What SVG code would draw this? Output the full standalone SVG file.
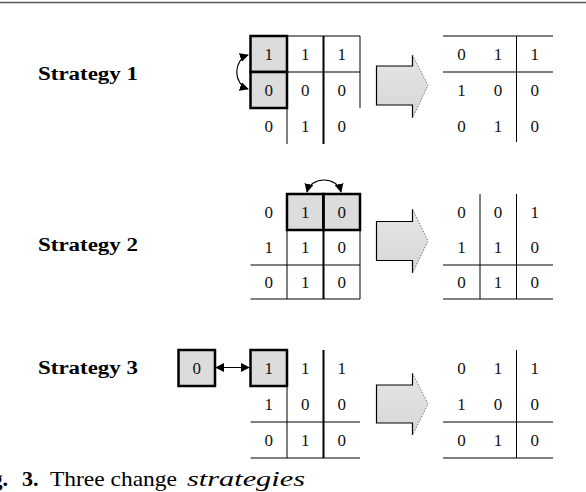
<svg xmlns="http://www.w3.org/2000/svg" width="586" height="492" viewBox="0 0 586 492">
<defs>
<marker id="ah" viewBox="0 0 10 10" refX="9" refY="5" markerWidth="9" markerHeight="9" markerUnits="userSpaceOnUse" orient="auto-start-reverse">
<path d="M0,0 L10,5 L0,10 Z" fill="#000"/>
</marker>
<linearGradient id="bg" x1="0" y1="0" x2="0" y2="1">
<stop offset="0" stop-color="#e6e6e6"/>
<stop offset="1" stop-color="#d6d6d6"/>
</linearGradient>
</defs>
<style>
.n{font-family:"Liberation Serif","Times New Roman",serif;font-size:17px;text-anchor:middle;fill:#111}
.lbl{font-family:"Liberation Serif","Times New Roman",serif;font-size:18px;font-weight:bold;fill:#000}
.g{fill:none;stroke:#000;stroke-width:1}
.hot{fill:#dcdcdc;stroke:#000;stroke-width:2.5}
.ar{fill:none;stroke:#000;stroke-width:1.2}
.bf{fill:url(#bg);stroke:none}
.bs{fill:none;stroke:#000;stroke-width:1.2}
.bd{fill:none;stroke:#777;stroke-width:1;stroke-dasharray:1.5 1.5}
.cap{font-family:"Liberation Serif","Times New Roman",serif;font-size:22px;fill:#000}
</style>
<rect width="586" height="492" fill="#fff"/>
<line x1="0" y1="2.5" x2="586" y2="2.5" stroke="#555" stroke-width="1.5"/>

<!-- Strategy 1 -->
<g id="label1"><text class="lbl" x="38" y="80" textLength="100" lengthAdjust="spacingAndGlyphs">Strategy 1</text></g>
<g id="matrix1a">
<path class="g" d="M250.5,36 H360 M250.5,72 H360 M287,36 V144 M323.5,36 V144 M360,36 V108"/>
<rect class="hot" x="250.5" y="36" width="36.5" height="36"/>
<rect class="hot" x="250.5" y="72" width="36.5" height="36"/>
<line x1="323.5" y1="36" x2="323.5" y2="144" stroke="#000" stroke-width="2"/>
<text class="n" x="268.7" y="60">1</text><text class="n" x="305.2" y="60">1</text><text class="n" x="341.7" y="60">1</text>
<text class="n" x="268.7" y="96">0</text><text class="n" x="305.2" y="96">0</text><text class="n" x="341.7" y="96">0</text>
<text class="n" x="268.7" y="132">0</text><text class="n" x="305.2" y="132">1</text><text class="n" x="341.7" y="132">0</text>
</g>
<g id="arrow1">
<path class="bf" d="M376.5,66 H412.5 V55 L428,85.5 L412.5,118 V105 H376.5 Z"/>
<path class="bs" d="M412.5,55 V66 H376.5 V105 H412.5 V118"/>
<path class="bd" d="M412.5,55 L428,85.5 L412.5,118"/>
</g>
<g id="matrix1b">
<path class="g" d="M443,36 H553 M443,72 H553 M516.5,36 V142"/>
<text class="n" x="461.5" y="60">0</text><text class="n" x="498" y="60">1</text><text class="n" x="534.7" y="60">1</text>
<text class="n" x="461.5" y="96">1</text><text class="n" x="498" y="96">0</text><text class="n" x="534.7" y="96">0</text>
<text class="n" x="461.5" y="132">0</text><text class="n" x="498" y="132">1</text><text class="n" x="534.7" y="132">0</text>
</g>

<!-- Strategy 2 -->
<g id="label2"><text class="lbl" x="38" y="251" textLength="100" lengthAdjust="spacingAndGlyphs">Strategy 2</text></g>
<g id="matrix2a">
<path class="g" d="M250.5,265 H360 M250.5,299 H360 M287,194 V299 M360,230 V299"/>
<rect class="hot" x="287" y="194" width="36.5" height="36"/>
<rect class="hot" x="323.5" y="194" width="36.5" height="36"/>
<line x1="323.5" y1="194" x2="323.5" y2="299" stroke="#000" stroke-width="2"/>
<text class="n" x="268.7" y="218">0</text><text class="n" x="305.2" y="218">1</text><text class="n" x="341.7" y="218">0</text>
<text class="n" x="268.7" y="253">1</text><text class="n" x="305.2" y="253">1</text><text class="n" x="341.7" y="253">0</text>
<text class="n" x="268.7" y="288">0</text><text class="n" x="305.2" y="288">1</text><text class="n" x="341.7" y="288">0</text>
</g>
<g id="arrow2">
<path class="bf" d="M376.5,221.5 H412.5 V209 L428,241 L412.5,273 V260.5 H376.5 Z"/>
<path class="bs" d="M412.5,209 V221.5 H376.5 V260.5 H412.5 V273"/>
<path class="bd" d="M412.5,209 L428,241 L412.5,273"/>
</g>
<g id="matrix2b">
<path class="g" d="M443,265 H553 M443,299 H553 M480,194 V299 M516.5,194 V299"/>
<text class="n" x="461.5" y="218">0</text><text class="n" x="498" y="218">0</text><text class="n" x="534.7" y="218">1</text>
<text class="n" x="461.5" y="253">1</text><text class="n" x="498" y="253">1</text><text class="n" x="534.7" y="253">0</text>
<text class="n" x="461.5" y="288">0</text><text class="n" x="498" y="288">1</text><text class="n" x="534.7" y="288">0</text>
</g>

<!-- Strategy 3 -->
<g id="label3"><text class="lbl" x="38" y="374" textLength="100" lengthAdjust="spacingAndGlyphs">Strategy 3</text></g>
<g id="box3">
<rect class="hot" x="178.5" y="350" width="36.5" height="36"/>
<text class="n" x="196.7" y="374">0</text>
</g>
<g id="matrix3a">
<path class="g" d="M250.5,422 H360 M250.5,458 H360 M287,386 V458"/>
<rect class="hot" x="250.5" y="350" width="36.5" height="36"/>
<line x1="323.5" y1="350" x2="323.5" y2="458" stroke="#000" stroke-width="2"/>
<text class="n" x="268.7" y="374">1</text><text class="n" x="305.2" y="374">1</text><text class="n" x="341.7" y="374">1</text>
<text class="n" x="268.7" y="410">1</text><text class="n" x="305.2" y="410">0</text><text class="n" x="341.7" y="410">0</text>
<text class="n" x="268.7" y="446">0</text><text class="n" x="305.2" y="446">1</text><text class="n" x="341.7" y="446">0</text>
</g>
<g id="arrow3">
<path class="bf" d="M376.5,385 H412.5 V373 L428,404 L412.5,435 V423 H376.5 Z"/>
<path class="bs" d="M412.5,373 V385 H376.5 V423 H412.5 V435"/>
<path class="bd" d="M412.5,373 L428,404 L412.5,435"/>
</g>
<g id="matrix3b">
<path class="g" d="M443,422 H553 M443,458 H553 M516.5,350 V458"/>
<text class="n" x="461.5" y="374">0</text><text class="n" x="498" y="374">1</text><text class="n" x="534.7" y="374">1</text>
<text class="n" x="461.5" y="410">1</text><text class="n" x="498" y="410">0</text><text class="n" x="534.7" y="410">0</text>
<text class="n" x="461.5" y="446">0</text><text class="n" x="498" y="446">1</text><text class="n" x="534.7" y="446">0</text>
</g>

<g id="connectors">
<path class="ar" d="M248,55 C233,60 233,84 248,89" marker-start="url(#ah)" marker-end="url(#ah)"/>
<path class="ar" d="M307,192 C311,176 337,176 341,192" marker-start="url(#ah)" marker-end="url(#ah)"/>
<line class="ar" x1="216" y1="367.5" x2="249" y2="367.5" marker-start="url(#ah)" marker-end="url(#ah)"/>
</g>

<g id="caption">
<text class="cap" x="8" y="486" text-anchor="end" font-weight="bold">Fig.</text>
<text class="cap" x="22" y="486" font-weight="bold">3.</text>
<text class="cap" x="50" y="486" textLength="127" lengthAdjust="spacingAndGlyphs">Three change</text>
<text class="cap" x="187" y="486" font-style="italic" textLength="118" lengthAdjust="spacingAndGlyphs">strategies</text>
</g>
</svg>
